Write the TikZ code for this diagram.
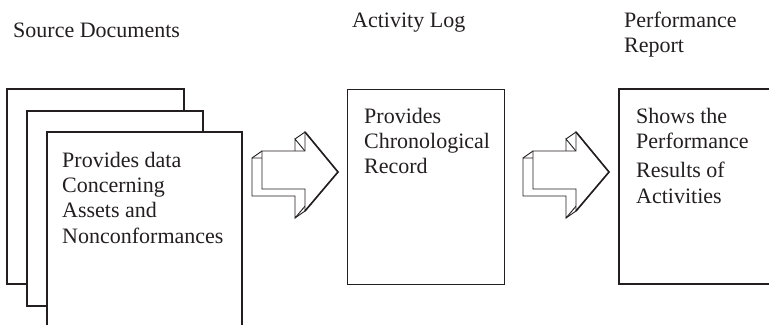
\documentclass[tikz,border=0pt]{standalone}
\usepackage{fontspec}
\setmainfont{Liberation Serif}
\definecolor{ink}{HTML}{231F20}
\begin{document}
\begin{tikzpicture}[x=1pt,y=-1pt,
  lbl/.style={anchor=base west,inner sep=0pt,text=ink,font=\fontsize{22}{25}\selectfont},
  sheet/.style={draw=ink,line width=1.4pt,fill=white},
  pics/bigarrow/.style={code={
    \draw[ink,line width=0.9pt,fill=white,shift={(-10,7)}]
      (0,-19) -- (43,-19) -- (43,-38) -- (76,2) -- (43,41) -- (43,19) -- (0,19) -- cycle;
    \draw[ink,line width=0.9pt] (0,-19) -- (-10,-12);
    \draw[ink,line width=0.9pt] (43,-38) -- (33,-31);
    \draw[ink,line width=0.9pt] (43,41) -- (33,48);
    \draw[ink,line width=0.9pt] (76,2) -- (66,9);
    \draw[ink,line width=0.9pt,fill=white,line join=miter]
      (0,-19) -- (43,-19) -- (43,-38) -- (76,2) -- (43,41) -- (43,19) -- (0,19) -- cycle;
    \draw[ink,line width=1.6pt] (43,-38) -- (76,2) -- (43,41);
  }}]
\useasboundingbox (0,0) rectangle (769,325);
\fill[white] (0,0) rectangle (769,325);

% source documents stack
\draw[sheet] (7,89) rectangle (184,284);
\draw[sheet] (27,111) rectangle (203,306);
\fill[white] (47,132) rectangle (242,325);
\draw[ink,line width=1.4pt] (47,325) -- (47,132) -- (242,132) -- (242,325);
\coordinate (src) at (144,230);

% activity log box
\node[draw=ink,line width=1.4pt,minimum width=157pt,minimum height=195pt,
      anchor=north west,inner sep=0pt] (log) at (347,89) {};
% performance box (cut at right edge)
\draw[ink,line width=1.4pt] (769,89) -- (619,89) -- (619,284) -- (769,284);
\coordinate (perf) at (694,186);

% arrows
\pic at (262,170) {bigarrow};
\pic at (533,170) {bigarrow};

% titles
\node[lbl] (t1) at (13,37) {Source Documents};
\node[lbl] (t2) at (352,27) {Activity Log};
\node[lbl] (t3a) at (624,27) {Performance};
\node[lbl] (t3b) at (624,52) {Report};

% box texts
\node[lbl] (s1) at (62,167) {Provides data};
\node[lbl] (s2) at (62,192) {Concerning};
\node[lbl] (s3) at (62,217) {Assets and};
\node[lbl] (s4) at (62,243) {Nonconformances};

\node[lbl] (a1) at (364,123) {Provides};
\node[lbl] (a2) at (364,148) {Chronological};
\node[lbl] (a3) at (364,173) {Record};

\node[lbl] (p1) at (636,123) {Shows the};
\node[lbl] (p2) at (636,148) {Performance};
\node[lbl] (p3) at (636,177) {Results of};
\node[lbl] (p4) at (636,203) {Activities};
\end{tikzpicture}
\end{document}
